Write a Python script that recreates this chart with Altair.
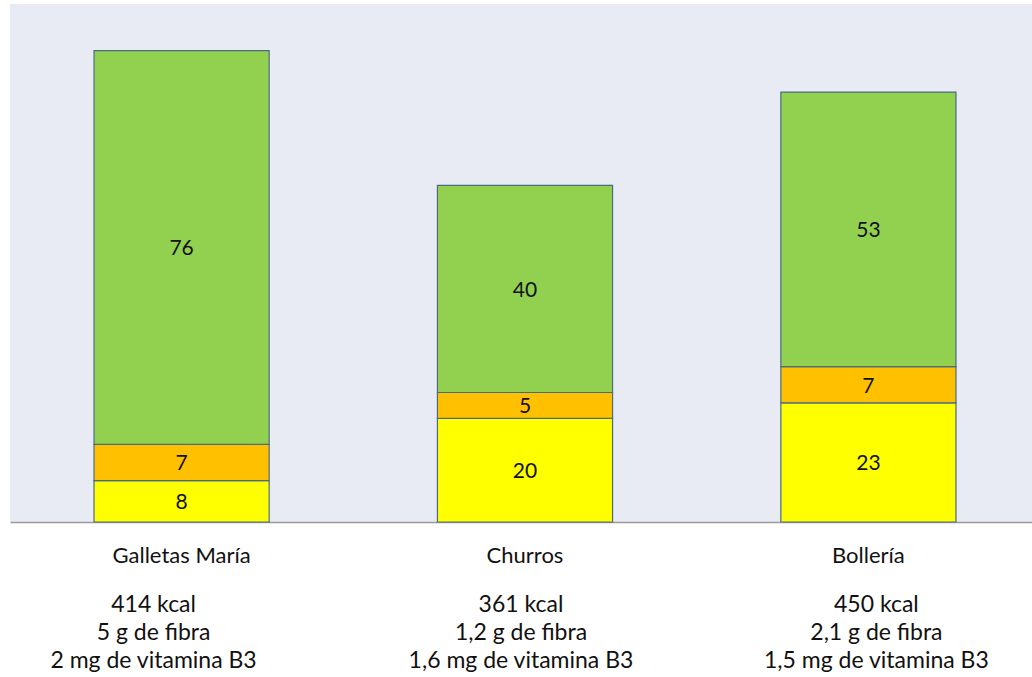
import altair as alt
import pandas as pd

categories = ["Galletas María", "Churros", "Bollería"]
yellow_vals = [8, 20, 23]
orange_vals = [7, 5, 7]
green_vals = [76, 40, 53]
segments = ["amarillo", "naranja", "verde"]
seg_colors = ["#FFFF00", "#FFC000", "#92D050"]
info_lines = [
    ["414 kcal", "5 g de fibra", "2 mg de vitamina B3"],
    ["361 kcal", "1,2 g de fibra", "1,6 mg de vitamina B3"],
    ["450 kcal", "2,1 g de fibra", "1,5 mg de vitamina B3"],
]
# horizontal nudge (style) of each info text box relative to its bar
info_dx = [-28, -4, 8]

rows = []
for i, c in enumerate(categories):
    for o, (s, vals) in enumerate(zip(segments, [yellow_vals, orange_vals, green_vals])):
        rows.append({"cat": c, "seg": s, "value": vals[i], "order": o})
df = pd.DataFrame(rows)
info_df = pd.DataFrame({"cat": categories, "info": ["\n".join(l) for l in info_lines]})

FONT = "Lato"
TXT = "#111111"

x_enc = alt.X(
    "cat:N",
    sort=categories,
    scale=alt.Scale(paddingInner=0.49, paddingOuter=0.233, align=0.525),
    axis=alt.Axis(
        title=None, labelAngle=0, ticks=False, labelFontSize=22, labelFont=FONT,
        labelColor=TXT, labelPadding=33, labelBaseline="middle",
        domainColor="#9a9a9a", domainWidth=1.5,
    ),
)
y_scale = alt.Scale(domain=[0, 100], nice=False)

base = alt.Chart(df).transform_stack(
    stack="value", groupby=["cat"], sort=[alt.SortField("order")], as_=["y0", "y1"]
).transform_calculate(mid="(datum.y0 + datum.y1) / 2")

bars = base.mark_bar(stroke="#4A6B82", strokeWidth=1.2).encode(
    x=x_enc,
    y=alt.Y("y0:Q", scale=y_scale, axis=None),
    y2="y1:Q",
    color=alt.Color("seg:N", scale=alt.Scale(domain=segments, range=seg_colors), legend=None),
)

labels = base.mark_text(font=FONT, fontSize=21, color=TXT, baseline="middle", dy=2).encode(
    x=alt.X("cat:N", sort=categories),
    y=alt.Y("mid:Q", scale=y_scale),
    text="value:Q",
)

info_layers = []
for c, dx in zip(categories, info_dx):
    info_layers.append(
        alt.Chart(info_df).transform_filter(alt.datum.cat == c).mark_text(
            font=FONT, fontSize=23, color=TXT, baseline="middle",
            lineBreak="\n", lineHeight=28, dx=dx,
        ).encode(
            x=alt.X("cat:N", sort=categories),
            y=alt.value(601),
            text="info:N",
        )
    )

chart = alt.layer(bars, labels, *info_layers).properties(
    width=1022, height=518,
    padding={"left": 10, "top": 4, "right": 0, "bottom": 0},
    background="white",
).configure_view(fill="#E8EBF3", stroke=None)

chart.save("out.html", embed_options={"renderer": "svg", "actions": False})
